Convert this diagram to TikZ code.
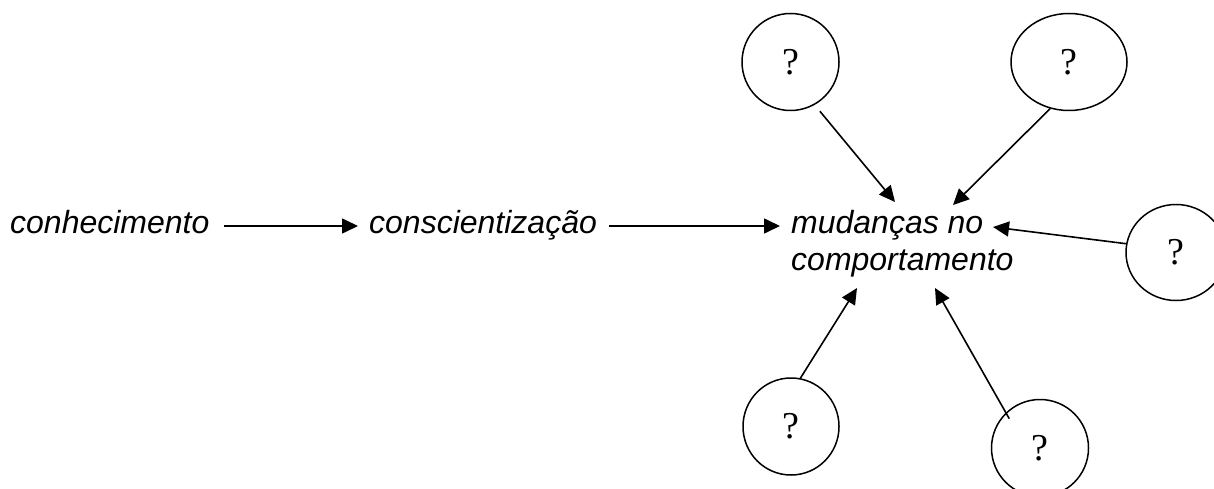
\documentclass[tikz,border=0pt]{standalone}
\usepackage{fontspec}
\setmainfont{Liberation Serif}
\newfontfamily\arialfont{Liberation Sans}
\usetikzlibrary{arrows.meta,shapes.geometric,calc}
\begin{document}
\begin{tikzpicture}[x=1pt,y=-1pt,
  lbl/.style={inner sep=0pt,font=\arialfont\itshape\fontsize{32}{37}\selectfont},
  qcirc/.style={ellipse,draw,line width=1.5pt,inner sep=0pt,font=\fontsize{38}{38}\selectfont},
  arr/.style={line width=1.6pt,-{Triangle[length=16pt,width=15pt]}}]
\useasboundingbox (0,0) rectangle (1214,489);
% text nodes
\node[lbl,anchor=base west] (k) at (10,233) {conhecimento};
\node[lbl,anchor=base west] (c) at (369,233) {conscientização};
\node[lbl,anchor=base west,align=left] (m) at (791,270) {mudanças no\\comportamento};
% circles
\node[qcirc,minimum width=97pt,minimum height=97pt] (q1) at (790.5,62) {?};
\node[qcirc,minimum width=116pt,minimum height=97pt] (q2) at (1069,62) {?};
\node[qcirc,minimum width=100pt,minimum height=96pt] (q3) at (1176,252.5) {?};
\node[qcirc,minimum width=96pt,minimum height=97pt] (q4) at (791,426.5) {?};
\node[qcirc,minimum width=97pt,minimum height=97pt] (q5) at (1040,448) {?};
% arrow tip points around the target label
\coordinate (t1) at (895,202);
\coordinate (t2) at (953,205);
\coordinate (t3) at (993,227);
\coordinate (t4) at (857,288);
\coordinate (t5) at (935,288);
% horizontal arrows
\draw[arr] ($(k.base east)+(14,-7)$) -- ($(c.base west)+(-11,-7)$);
\draw[arr] ($(c.base east)+(12,-7)$) -- ($(m.base west)+(-11,-44)$);
% incoming arrows
\draw[arr] ($(q1.-59)+(4,7)$) -- (t1);
\draw[arr] (q2.-112) -- (t2);
\draw[arr] (q3.170) -- (t3);
\draw[arr] (q4.79) -- (t4);
\draw[arr,shorten <=-7pt] (q5.134) -- (t5);
\end{tikzpicture}
\end{document}
